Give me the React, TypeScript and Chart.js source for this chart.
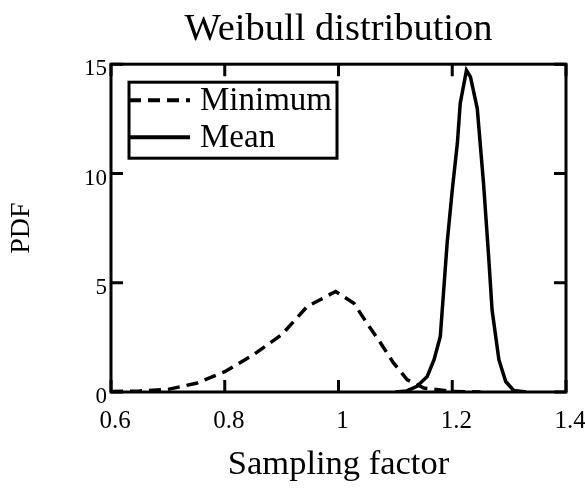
import React, { useEffect, useRef } from "react";
import { Chart, registerables } from "chart.js";

Chart.register(...registerables);

const minX = [0.6, 0.65, 0.7, 0.75, 0.8, 0.85, 0.9, 0.945, 0.995, 1.027, 1.05, 1.074, 1.097, 1.121, 1.15, 1.2, 1.25];
const minY = [0.02, 0.05, 0.12, 0.4, 0.93, 1.7, 2.62, 3.91, 4.6, 4.06, 3.15, 2.24, 1.32, 0.56, 0.18, 0.02, 0];
const meanX = [1.1, 1.12, 1.138, 1.156, 1.168, 1.179, 1.185, 1.191, 1.2, 1.209, 1.214, 1.225, 1.232, 1.244, 1.255, 1.264, 1.27, 1.282, 1.294, 1.308, 1.33];
const meanY = [0, 0.05, 0.26, 0.71, 1.48, 2.54, 4.67, 6.81, 9.24, 11.38, 13.2, 14.72, 14.42, 12.97, 9.55, 6.2, 3.76, 1.48, 0.48, 0.07, 0];
const xTicks = [0.6, 0.8, 1, 1.2, 1.4];
const yTicks = [0, 5, 10, 15];
const seriesLabels = ["Minimum", "Mean"];

const FONT = "'Liberation Serif', 'Times New Roman', serif";

const framePlugin = {
  id: "frame",
  afterDatasetsDraw(chart: any) {
    const { ctx, chartArea } = chart;
    const { left, right, top, bottom } = chartArea;
    const xs = chart.scales.x;
    const ys = chart.scales.y;
    ctx.save();
    ctx.strokeStyle = "#000";
    ctx.lineWidth = 3;
    ctx.strokeRect(left, top, right - left, bottom - top);
    const tl = 12;
    ctx.beginPath();
    xTicks.forEach((v) => {
      const px = xs.getPixelForValue(v);
      ctx.moveTo(px, bottom);
      ctx.lineTo(px, bottom - tl);
      ctx.moveTo(px, top);
      ctx.lineTo(px, top + tl);
    });
    yTicks.forEach((v) => {
      const py = ys.getPixelForValue(v);
      ctx.moveTo(left, py);
      ctx.lineTo(left + tl, py);
      ctx.moveTo(right, py);
      ctx.lineTo(right - tl, py);
    });
    ctx.stroke();

    // legend
    const bx = left + 18;
    const by = top + 18;
    const bw = 208;
    const bh = 76;
    ctx.fillStyle = "#fff";
    ctx.fillRect(bx, by, bw, bh);
    ctx.lineWidth = 3;
    ctx.strokeRect(bx, by, bw, bh);
    const rows = [by + 18, by + 55];
    chart.data.datasets.forEach((ds: any, i: number) => {
      const y = rows[i];
      ctx.save();
      ctx.lineWidth = 4;
      ctx.setLineDash(ds.borderDash || []);
      ctx.beginPath();
      ctx.moveTo(bx, y);
      ctx.lineTo(bx + 61, y);
      ctx.stroke();
      ctx.restore();
      ctx.fillStyle = "#000";
      ctx.font = `33px ${FONT}`;
      ctx.textBaseline = "middle";
      ctx.textAlign = "left";
      ctx.fillText(ds.label, bx + 71, y + 1);
    });
    ctx.restore();
  },
};

export default function App() {
  const ref = useRef<HTMLCanvasElement | null>(null);
  useEffect(() => {
    document.body.style.margin = "0";
    const ctx = ref.current!.getContext("2d")!;
    const chart = new Chart(ctx, {
      type: "scatter",
      data: {
        datasets: [
          {
            label: seriesLabels[0],
            data: minX.map((x, i) => ({ x, y: minY[i] })),
            showLine: true,
            borderColor: "#000",
            borderWidth: 3.5,
            borderDash: [12, 7],
            pointRadius: 0,
            tension: 0,
          },
          {
            label: seriesLabels[1],
            data: meanX.map((x, i) => ({ x, y: meanY[i] })),
            showLine: true,
            borderColor: "#000",
            borderWidth: 3.5,
            pointRadius: 0,
            tension: 0,
          },
        ],
      },
      options: {
        animation: false,
        responsive: false,
        layout: { padding: { left: 0, right: 19, top: 0, bottom: 0 } },
        plugins: {
          legend: { display: false },
          tooltip: { enabled: false },
          title: {
            display: true,
            text: "Weibull distribution",
            fullSize: false,
            color: "#000",
            font: { family: FONT, size: 38.5, weight: "normal" },
            padding: { top: 7, bottom: 11 },
          },
        },
        scales: {
          x: {
            type: "linear",
            min: 0.6,
            max: 1.4,
            afterBuildTicks: (s: any) => {
              s.ticks = xTicks.map((v) => ({ value: v }));
            },
            afterFit: (s: any) => {
              s.height = 96;
              s.paddingLeft = 0;
              s.paddingRight = 0;
            },
            grid: { display: false, drawTicks: false },
            border: { display: false },
            ticks: {
              color: "#000",
              font: { family: FONT, size: 25 },
              padding: 14,
              labelOffset: 4,
              maxRotation: 0,
              callback: (v: any) => String(v),
            },
            title: {
              display: true,
              text: "Sampling factor",
              color: "#000",
              font: { family: FONT, size: 34.5 },
              padding: { top: 0, bottom: 2 },
            },
          },
          y: {
            type: "linear",
            min: 0,
            max: 15,
            afterBuildTicks: (s: any) => {
              s.ticks = yTicks.map((v) => ({ value: v }));
            },
            afterFit: (s: any) => {
              s.width = 111;
              s.paddingTop = 0;
              s.paddingBottom = 0;
            },
            grid: { display: false, drawTicks: false },
            border: { display: false },
            ticks: {
              color: "#000",
              font: { family: FONT, size: 23 },
              padding: 4,
              labelOffset: 5,
            },
            title: {
              display: true,
              text: "PDF",
              color: "#000",
              font: { family: FONT, size: 28 },
              padding: { top: 5, bottom: 0 },
            },
          },
        },
      },
      plugins: [framePlugin],
    });
    return () => chart.destroy();
  }, []);
  return (
    <div style={{ width: 585, height: 488, background: "#fff" }}>
      <canvas ref={ref} width={585} height={488} style={{ display: "block" }} />
    </div>
  );
}
